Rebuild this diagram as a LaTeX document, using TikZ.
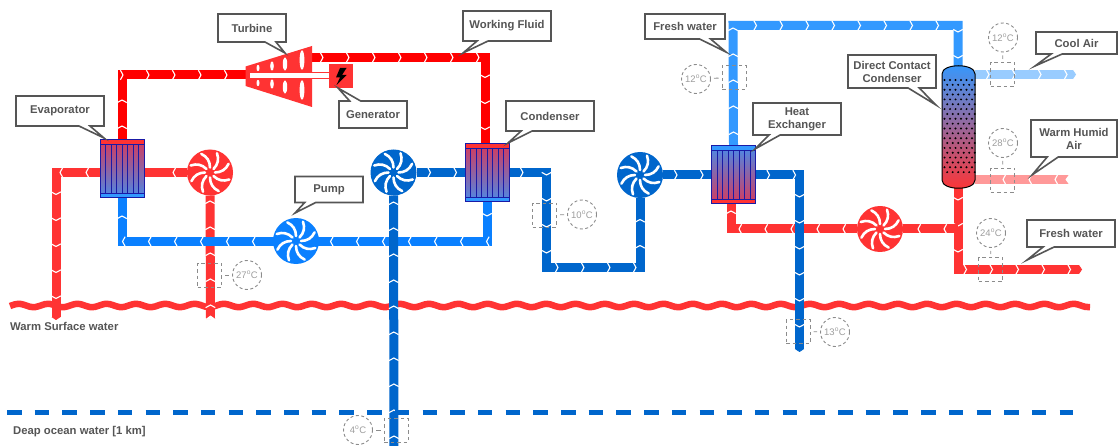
\documentclass[tikz,border=0pt]{standalone}
\usepackage{fontspec}
\setmainfont{Liberation Sans}
\usetikzlibrary{arrows.meta,calc,backgrounds,decorations.markings,
  shapes.callouts}
\definecolor{hotred}{HTML}{FF3333}
\definecolor{vapred}{HTML}{FF0000}
\definecolor{loopblue}{HTML}{0A80FF}
\definecolor{deepblue}{HTML}{0066CC}
\definecolor{skyblue}{HTML}{3399FF}
\definecolor{paleblue}{HTML}{99CCFF}
\definecolor{palered}{HTML}{FF9999}
\definecolor{tagline}{HTML}{555555}
\definecolor{probegray}{HTML}{8C8C8C}
\definecolor{hxwarm}{HTML}{D63A5C}
\definecolor{hxcold}{HTML}{4A8AE8}
\definecolor{hxline}{HTML}{1A1AA6}
\tikzset{
    pipe/.style={line width=9, draw=#1, postaction={decorate,
        decoration={markings, mark=between positions 14pt and -4pt step 26pt
          with {\draw[-, white, line width=1.1, line join=miter]
            (-2.6,-4.8) -- (0,0) -- (-2.6,4.8);}}}},
    pointed/.style={-{Triangle[length=3pt,width=9pt]}},
    notched/.style={postaction={decorate, decoration={markings,
          mark=at position 0 with {\fill[white] (-0.5,-5.5) -- (3.5,0) -- (-0.5,5.5) -- cycle;}}}},
    tag box/.style={rectangle callout, draw=tagline, fill=white, line width=1.6,
      text=tagline, font=\fontsize{11.3}{13}\selectfont\bfseries, align=center,
      inner sep=0pt, outer sep=0pt, callout pointer width=11pt},
    plain tag/.style={text=tagline, font=\fontsize{11.3}{13}\selectfont\bfseries,
      anchor=west, inner sep=0pt},
    probe box/.style={draw=probegray, dashed, line width=0.9, inner sep=0pt,
      outer sep=0pt, minimum width=24, minimum height=24,
      dash pattern=on 3.5pt off 3pt},
    probe dial/.style={circle, draw=probegray, line width=0.9, inner sep=0pt,
      outer sep=0pt, minimum size=29, text=probegray!85,
      dash pattern=on 3pt off 2.5pt, font=\fontsize{9.5}{11}\selectfont},
    probe line/.style={draw=probegray, line width=0.9, shorten >=3.5pt, shorten <=3.5pt},
    pump unit/.style={circle, inner sep=0pt, outer sep=0pt, minimum size=46},
    blade/.style={draw=white, line width=2.6, line cap=round},
    hx unit/.style={draw=hxline, line width=1, inner sep=0pt,
      outer sep=0pt, minimum width=44, minimum height=58}
}
% name, centre, colour
\newcommand{\pumpunit}[3]{
  \node[pump unit, fill=#3] (#1) at (#2) {};
  \foreach \a in {0,45,...,315}
    \draw[blade] ($(#1)+(\a:5)$) to[bend right=32] ($(#1)+(\a-25:20.5)$);
}
% name, centre, colour of top, colour of bottom, end colours
\newcommand{\hxunit}[6]{
  \node[hx unit, top color=#3, bottom color=#4] (#1) at (#2) {};
  \fill[#5] ($(#1.north west)+(0.5,0.5)$) rectangle ($(#1.north east)+(-0.5,4.5)$);
  \fill[#6] ($(#1.south west)+(0.5,-0.5)$) rectangle ($(#1.south east)+(-0.5,-5)$);
  \draw[hxline, line width=0.8] ($(#1.north west)+(0,4.5)$) -- ($(#1.north east)+(0,4.5)$);
  \draw[hxline, line width=0.8] ($(#1.south west)+(0,-5)$) -- ($(#1.south east)+(0,-5)$);
  \foreach \k in {1,...,7}
    \draw[hxline, line width=0.8]
      ($(#1.north west)!\k/8!(#1.north east)+(0,4.5)$) --
      ($(#1.south west)!\k/8!(#1.south east)+(0,-5)$);
}
\begin{document}
\begin{tikzpicture}[x=1pt,y=-1pt]
  \useasboundingbox (0,0) rectangle (1118,446);

  \coordinate (turbine in) at (247,75);
  \coordinate (turbine out) at (309,57.5);
  \coordinate (top right) at (485,57.5);
  \coordinate (cond low) at (487,241.5);
  \coordinate (evap low) at (122,241.5);
  \coordinate (warm out) at (56,320);
  \coordinate (warm in) at (210.5,319);
  \coordinate (deep in) at (394,450);
  \coordinate (sag a) at (546.5,172.5);
  \coordinate (sag b) at (546.5,267.5);
  \coordinate (sag c) at (640,267.5);
  \coordinate (hx corner) at (799.5,175);
  \coordinate (spent) at (799.5,352);
  \coordinate (fresh a) at (733,25.5);
  \coordinate (fresh b) at (958,25.5);
  \coordinate (branch) at (958,229);
  \coordinate (branch end) at (731,229);
  \coordinate (fresh c) at (958,269.5);
  \coordinate (fresh end) at (1082,269.5);
  \coordinate (cool start) at (975,74.5);
  \coordinate (cool end) at (1076,74.5);
  \coordinate (humid start) at (1069,179.5);
  \coordinate (humid end) at (975,179.5);
  \coordinate (dcc top) at (958,70);
  \coordinate (dcc bottom) at (958,186);

  % equipment
  \hxunit{evap}{122,169}{hxwarm}{hxcold}{hotred}{skyblue}
  \hxunit{cond}{487,173}{hxwarm}{hxcold}{hotred}{skyblue}
  \hxunit{hx}{733.5,175}{hxcold}{hxwarm}{skyblue}{hotred}
  \pumpunit{warm pump}{210,172.5}{hotred}
  \pumpunit{loop pump}{296,241}{loopblue}
  \pumpunit{deep pump}{393.5,172.5}{deepblue}
  \pumpunit{sag pump}{640,175}{deepblue}
  \pumpunit{back pump}{880,229}{hotred}

  % turbine and generator
  \fill[hotred] (245.5,66.5) -- (312,46) -- (312,107) -- (245.5,86) -- cycle;
  \foreach \x/\yt/\yb/\rx/\ry in {258/68/83/1.5/3.2,272/66/84/1.8/4.7,285/64/87/2.2/6.7,302/60/90/2.4/9.7} {
    \fill[white] (\x,\yt) ellipse [x radius=\rx, y radius=\ry];
    \fill[white] (\x,\yb) ellipse [x radius=\rx, y radius=\ry];
  }
  \node[fill=hotred, inner sep=0pt, outer sep=0pt, minimum size=24] (generator) at (341,76) {};
  \filldraw[fill=white, draw=hotred, line width=0.6] (249,72.5) rectangle (329,78);
  \fill[black] (340,68) -- (336,77.5) -- (340,77.5) -- (336.5,85) -- (346.5,75)
    -- (342,75) -- (346.5,68) -- cycle;

  % contact condenser
  \path[draw=black, line width=1, top color=skyblue, bottom color=hotred]
    (942,74) .. controls (942,63) and (975,63) .. (975,74) --
    (975,180) .. controls (975,191) and (942,191) .. (942,180) -- cycle;
  \foreach \row in {0,...,19} {
    \pgfmathsetmacro\dx{mod(\row,2)*2.7}
    \foreach \col in {0,...,5}
      \fill[black] ({944.5+\col*5.5+\dx},{80+\row*4.85}) circle [radius=1.1];
  }

  % pipes
  \begin{pgfonlayer}{background}
    \draw[line width=6.5, draw=hotred] plot[smooth, domain=10:1090, samples=217]
      (\x,{305.5-1.7*cos((\x-722)/29.3*360)});
    \draw[pipe=hotred, pointed] (warm pump.west -| evap.west) -| (warm out);
    \draw[pipe=hotred, notched] (warm in) -- (warm pump.south);
    \draw[pipe=hotred] (warm pump.west) -- (warm pump.west -| evap.east);
    \draw[pipe=vapred] (evap.north) |- (turbine in);
    \draw[pipe=vapred] (turbine out) -- (top right) -- (cond.north -| top right);
    \draw[pipe=hotred, pointed] (dcc bottom) -- (fresh c) -- (fresh end);
    \draw[pipe=hotred] (branch) -- (back pump.east);
    \draw[pipe=hotred] (back pump.west) -- (branch end) -- (hx.south -| branch end);
    \draw[pipe=palered, notched] (humid start) -- (humid end);
    \draw[pipe=paleblue, pointed] (cool start) -- (cool end);
    \draw[pipe=loopblue] (cond.south) -- (cond low) -- (evap low) -- (evap.south);
    \draw[pipe=skyblue] (hx.north) -- (fresh a) -- (fresh b) -- (dcc top);
    \draw[pipe=deepblue] (deep in) -- (deep pump.south);
    \draw[pipe=deepblue] (deep pump.east) -- (deep pump.east -| cond.west);
    \draw[pipe=deepblue] (sag a -| cond.east) -- (sag a) -- (sag b) -- (sag c) -- (sag pump.south);
    \draw[pipe=deepblue] (sag pump.east) -- (hx.west);
    \draw[pipe=deepblue, pointed] (hx.east) -- (hx corner) -- (spent);
    \draw[draw=deepblue, line width=5, dash pattern=on 14.5pt off 13.2pt] (7,412) -- (1073,412);
  \end{pgfonlayer}

  % probes
  \node[probe box] (box 27) at (209.5,275) {};
  \node[probe dial] (dial 27) at (247,275) {27\textsuperscript{o}C};
  \node[probe box] (box 10) at (544.5,215) {};
  \node[probe dial] (dial 10) at (582,214.5) {10\textsuperscript{o}C};
  \node[probe box] (box 4) at (396,430) {};
  \node[probe dial] (dial 4) at (358,430) {4\textsuperscript{o}C};
  \node[probe box] (box 13) at (798,331.5) {};
  \node[probe dial] (dial 13) at (835,332) {13\textsuperscript{o}C};
  \node[probe box] (box 12a) at (734,77.5) {};
  \node[probe dial] (dial 12a) at (696,79) {12\textsuperscript{o}C};
  \node[probe box] (box 12b) at (1002.5,74.5) {};
  \node[probe dial] (dial 12b) at (1003,37.5) {12\textsuperscript{o}C};
  \node[probe box] (box 28) at (1002.5,180) {};
  \node[probe dial] (dial 28) at (1003,143) {28\textsuperscript{o}C};
  \node[probe box] (box 24) at (990.5,269.5) {};
  \node[probe dial] (dial 24) at (991,233) {24\textsuperscript{o}C};
  \foreach \p in {27,10,4,13,12a,12b,28,24}
    \draw[probe line] (box \p) -- (dial \p);

  % tags
  \node[tag box, minimum width=68, minimum height=28,
    callout absolute pointer={(285,53)}] (tag turbine) at (252,28) {Turbine};
  \node[tag box, minimum width=88, minimum height=30,
    callout absolute pointer={(104,138)}] (tag evap) at (60,111) {Evaporator};
  \node[tag box, minimum width=68, minimum height=26,
    callout absolute pointer={(295,213)}] (tag pump) at (329,189.5) {Pump};
  \node[tag box, minimum width=68, minimum height=27,
    callout absolute pointer={(338,88)}] (tag gen) at (373,114.5) {Generator};
  \node[tag box, minimum width=88, minimum height=30,
    callout absolute pointer={(463,53)}] (tag fluid) at (507,26) {Working Fluid};
  \node[tag box, minimum width=88, minimum height=30,
    callout absolute pointer={(508,143)}] (tag cond) at (550,116) {Condenser};
  \node[tag box, minimum width=80, minimum height=25,
    callout absolute pointer={(726,52)}] (tag fresh) at (685,26.5) {Fresh water};
  \node[tag box, minimum width=88, minimum height=32,
    callout absolute pointer={(755,149)}] (tag hx) at (797,119) {Heat\\Exchanger};
  \node[tag box, minimum width=88, minimum height=33,
    callout absolute pointer={(936,105)}] (tag dcc) at (892,71.5) {Direct Contact\\Condenser};
  \node[tag box, minimum width=81, minimum height=22,
    callout absolute pointer={(1035,66)}] (tag cool) at (1076.5,43) {Cool Air};
  \node[tag box, minimum width=86, minimum height=37,
    callout absolute pointer={(1032,175)}] (tag humid) at (1074,138.5) {Warm Humid\\Air};
  \node[tag box, minimum width=88, minimum height=27,
    callout absolute pointer={(1027,260)}] (tag water) at (1071,233.5) {Fresh water};

  \node[plain tag] (surface) at (10,326) {Warm Surface water};
  \node[plain tag] (deep) at (13,432) {Deap ocean water [1 km]};
\end{tikzpicture}
\end{document}
